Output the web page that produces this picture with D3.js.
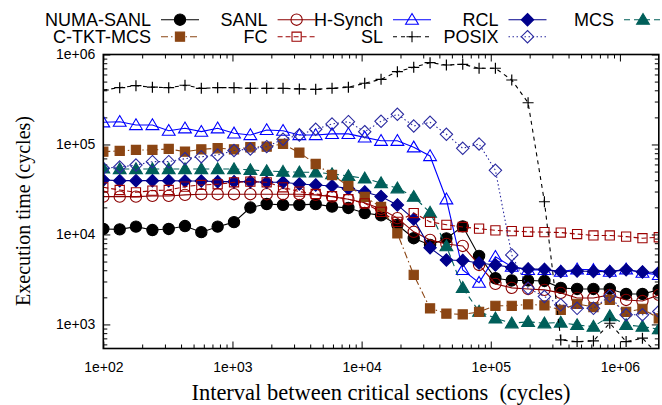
<!DOCTYPE html>
<html><head><meta charset="utf-8">
<script src="https://cdn.jsdelivr.net/npm/d3@7"></script>
<style>body{margin:0;background:#fff}svg{display:block}</style>
</head><body><svg id="c" width="662" height="405"></svg>
<script>
// ---- data ----
const intervals = [100,134,179,240,321,429,574,768,1028,1376,1841,2464,3296,4411,5902,7899,10568,14142,18923,25323,33884,45340,60674,81189,108643,145378,194536,260316,348337,466119,623735,834646,1116863,1494520,1999862];
const numaSanl = [11500,11400,12200,11200,11500,12400,10600,12200,13700,19900,21800,21300,21300,21700,20400,19700,17300,16300,12800,9080,7640,9030,12300,5770,3260,3080,3080,3040,2550,2480,2480,2480,2180,2180,2420];
const sanl = [26300,26300,26300,26800,26800,27500,28000,28000,28000,28000,28000,28000,28000,27500,26300,24600,22500,19200,15200,10700,8700,7840,7450,4580,2820,2550,2480,2420,2240,1970,1970,2130,1870,1820,2130];
const hSynch = [176400,179000,164700,164700,142300,151300,138800,151300,133000,127500,145000,142300,127500,127500,131000,131000,120000,110000,110000,93000,74500,24600,4036,2914,5660,4385,4036,4036,3866,4103,4036,3866,4103,3767,3548];
const rcl = [40300,39600,39600,39600,39600,39300,39300,38600,38600,38600,38000,38000,36400,35500,34600,32300,29700,26400,21300,14800,7100,5200,5140,4820,4580,4300,4140,4090,3860,3930,3880,3860,4040,3830,3780];
const mcs = [54400,53400,53400,53400,53400,53400,53400,53400,53400,52100,50800,49900,49100,49100,47000,44700,42100,37300,32600,26300,17500,7400,2550,1390,1170,1030,1070,1030,1050,986,946,1240,986,946,885];
const cTktMcs = [83200,84700,86900,86900,89200,83200,88400,90800,88400,93200,94600,101300,81100,60700,45800,34600,26100,20200,10300,3550,1510,1320,1290,1380,1610,1610,1670,1630,1450,1690,1560,1870,1380,1490,1170];
const fc = [33400,31200,29400,30700,31200,34000,35500,36100,38000,38600,38000,33400,29900,28200,26600,24600,22200,17800,13800,17300,13800,12800,12100,11600,11100,10900,10700,10600,10500,10100,9750,9750,9460,9080,9310];
const sl = [403000,428000,450000,433000,428000,455000,421000,428000,428000,421000,421000,421000,414000,410000,421000,433000,479000,530000,644000,721000,811000,764000,778000,703000,703000,521000,291000,23100,673,644,656,1031,644,703,450];
const posix = [54400,56200,59100,64400,64400,69500,73100,76400,85700,89100,94600,114300,127600,147600,169000,179200,138700,181000,216600,160500,176500,129800,90700,101300,51600,5920,2520,2040,1650,1510,1510,2070,1280,1280,1390];

const seriesNames = ["NUMA-SANL","SANL","H-Synch","RCL","MCS","C-TKT-MCS","FC","SL","POSIX"];
const seriesValues = [numaSanl,sanl,hSynch,rcl,mcs,cTktMcs,fc,sl,posix];
const seriesColors = ["#000000","#8b0000","#0000ff","#00008b","#005f5a","#8b4513","#9b0000","#000000","#2a2aa0"];
const seriesDash = [null,null,null,null,"6,4","7,3,1.5,3","5,3","4,4","1.5,2.5"];
const seriesMarker = ["circleF","circleO","triO","diamF","triF","sqF","sqO","plus","diamO"];

const xTicks = [1e2,1e3,1e4,1e5,1e6];
const xTickLabels = ["1e+02","1e+03","1e+04","1e+05","1e+06"];
const yTicks = [1e3,1e4,1e5,1e6];
const yTickLabels = ["1e+03","1e+04","1e+05","1e+06"];
const xTitle = "Interval between critical sections  (cycles)";
const yTitle = "Execution time (cycles)";

// ---- layout ----
const L = 103.3, R = 658.8, T = 54.5, B = 348.5;
const svg = d3.select("#c");
const x = d3.scaleLog().domain([100, 2e6]).range([L, R]);
const y = d3.scaleLog().domain([540, 1e6]).range([B, T]);

function minors(dom) {
  const out = [];
  for (let e = Math.floor(Math.log10(dom[0])); e <= Math.ceil(Math.log10(dom[1])); e++)
    for (let k = 2; k <= 9; k++) { const v = k * Math.pow(10, e); if (v > dom[0] && v < dom[1]) out.push(v); }
  return out;
}
const xMin = minors(x.domain()), yMin = minors(y.domain());

function styleAxis(g) {
  g.select(".domain").remove();
  g.selectAll("line").attr("stroke", "#000").attr("stroke-width", 1);
}
const tickFont = "Liberation Sans, Arial, sans-serif";
const serif = "Liberation Serif, Times New Roman, serif";

// bottom
svg.append("g").attr("transform", `translate(0,${B})`)
  .call(d3.axisBottom(x).tickValues(xTicks).tickSize(-7).tickFormat((d, i) => xTickLabels[i]).tickPadding(14))
  .call(styleAxis)
  .call(g => g.selectAll("text").attr("font-family", tickFont).attr("font-size", 14).attr("fill", "#000"));
svg.append("g").attr("transform", `translate(0,${B})`)
  .call(d3.axisBottom(x).tickValues(xMin).tickSize(-4).tickFormat("")).call(styleAxis);
// top
svg.append("g").attr("transform", `translate(0,${T})`)
  .call(d3.axisTop(x).tickValues(xTicks).tickSize(-7).tickFormat("")).call(styleAxis);
svg.append("g").attr("transform", `translate(0,${T})`)
  .call(d3.axisTop(x).tickValues(xMin).tickSize(-4).tickFormat("")).call(styleAxis);
// left
svg.append("g").attr("transform", `translate(${L},0)`)
  .call(d3.axisLeft(y).tickValues(yTicks).tickSize(-7).tickFormat((d, i) => yTickLabels[i]).tickPadding(8))
  .call(styleAxis)
  .call(g => g.selectAll("text").attr("font-family", tickFont).attr("font-size", 14).attr("fill", "#000"));
svg.append("g").attr("transform", `translate(${L},0)`)
  .call(d3.axisLeft(y).tickValues(yMin).tickSize(-4).tickFormat("")).call(styleAxis);
// right
svg.append("g").attr("transform", `translate(${R},0)`)
  .call(d3.axisRight(y).tickValues(yTicks).tickSize(-7).tickFormat("")).call(styleAxis);
svg.append("g").attr("transform", `translate(${R},0)`)
  .call(d3.axisRight(y).tickValues(yMin).tickSize(-4).tickFormat("")).call(styleAxis);

// clip
svg.append("defs").append("clipPath").attr("id", "clip")
  .append("rect").attr("x", L).attr("y", T).attr("width", R - L).attr("height", B - T);

// markers
function markerPath(type) {
  switch (type) {
    case "circleF": case "circleO": return d3.symbol(d3.symbolCircle, 100)();
    case "sqF": case "sqO": return "M-4.6,-4.6H4.6V4.6H-4.6Z";
    case "triF": case "triO": return "M0,-6.2L6.4,4.6H-6.4Z";
    case "diamF": case "diamO": return "M0,-6.2L6.2,0L0,6.2L-6.2,0Z";
    case "plus": return "M-5.5,0H5.5M0,-5.5V5.5";
  }
}
const filled = t => t.endsWith("F");

const plot = svg.append("g").attr("clip-path", "url(#clip)");
const line = d3.line().x((d, i) => x(intervals[i])).y(d => y(d));
seriesValues.forEach((vals, s) => {
  const g = plot.append("g");
  g.append("path").attr("d", line(vals)).attr("fill", "none")
    .attr("stroke", seriesColors[s]).attr("stroke-width", 1.1)
    .attr("stroke-dasharray", seriesDash[s]);
  const mp = markerPath(seriesMarker[s]);
  g.selectAll("path.m").data(vals).enter().append("path").attr("class", "m")
    .attr("transform", (d, i) => `translate(${x(intervals[i])},${y(d)})`)
    .attr("d", mp)
    .attr("fill", filled(seriesMarker[s]) ? seriesColors[s] : "none")
    .attr("stroke", seriesColors[s]).attr("stroke-width", seriesMarker[s] === "plus" ? 1.2 : 1.1);
});

// frame
svg.append("rect").attr("x", L).attr("y", T).attr("width", R - L).attr("height", B - T)
  .attr("fill", "none").attr("stroke", "#000").attr("stroke-width", 1.6);

// legend
const legRight = [151, 267.6, 383, 498.5, 614];
const legRows = [26, 43];
seriesNames.forEach((name, s) => {
  const col = s % 5, row = Math.floor(s / 5);
  const rx = legRight[col], by = legRows[row], cy = by - 6.3;
  svg.append("text").attr("x", rx).attr("y", by).attr("text-anchor", "end")
    .attr("font-family", tickFont).attr("font-size", 18).attr("fill", "#000").text(name);
  svg.append("line").attr("x1", rx + 10).attr("x2", rx + 48).attr("y1", cy).attr("y2", cy)
    .attr("stroke", seriesColors[s]).attr("stroke-width", 1.1).attr("stroke-dasharray", seriesDash[s]);
  svg.append("path").attr("transform", `translate(${rx + 29},${cy})`).attr("d", markerPath(seriesMarker[s]))
    .attr("fill", filled(seriesMarker[s]) ? seriesColors[s] : "none")
    .attr("stroke", seriesColors[s]).attr("stroke-width", 1.1);
});

// titles
svg.append("text").attr("x", 381).attr("y", 400).attr("text-anchor", "middle")
  .style("white-space", "pre").attr("xml:space", "preserve")
  .attr("font-family", serif).attr("font-size", 22.5).attr("fill", "#000").text(xTitle);
svg.append("text").attr("transform", "translate(30,211) rotate(-90)").attr("text-anchor", "middle")
  .attr("font-family", serif).attr("font-size", 20).attr("fill", "#000").text(yTitle);
</script></body></html>
